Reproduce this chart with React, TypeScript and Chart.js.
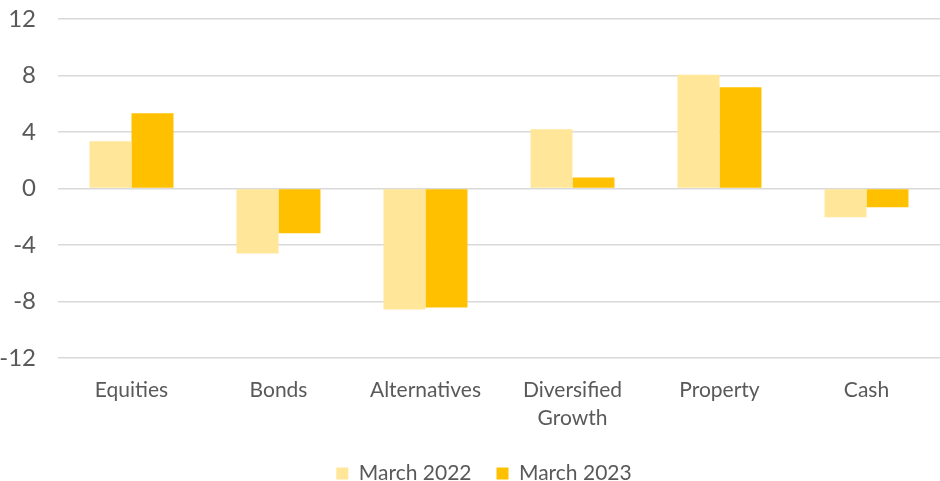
import React, { useEffect, useRef } from "react";
import { Chart, registerables } from "chart.js";

Chart.register(...registerables);

const categories: (string | string[])[] = [
  "Equities",
  "Bonds",
  "Alternatives",
  ["Diversified", "Growth"],
  "Property",
  "Cash",
];
const march2022 = [3.34, -4.6, -8.57, 4.19, 8.05, -2.04];
const march2023 = [5.33, -3.17, -8.43, 0.78, 7.17, -1.33];
const seriesLabels = ["March 2022", "March 2023"];
const yMin = -12;
const yMax = 12;
const yStep = 4;

const legendShift = {
  id: "legendShift",
  afterLayout(chart: any) {
    const lg = chart.legend;
    if (lg) {
      lg.left += 14;
      lg.right += 14;
    }
  },
};

export default function App() {
  const ref = useRef<HTMLCanvasElement | null>(null);

  useEffect(() => {
    document.body.style.margin = "0";
    const ctx = ref.current;
    if (!ctx) return;
    const textColor = "#595959";
    const chart = new Chart(ctx, {
      type: "bar",
      data: {
        labels: categories as any,
        datasets: [
          {
            label: seriesLabels[0],
            data: march2022,
            backgroundColor: "#FFE699",
            categoryPercentage: 0.571,
            barPercentage: 1,
          },
          {
            label: seriesLabels[1],
            data: march2023,
            backgroundColor: "#FFC000",
            categoryPercentage: 0.571,
            barPercentage: 1,
          },
        ],
      },
      plugins: [legendShift],
      options: {
        animation: false,
        responsive: false,
        maintainAspectRatio: false,
        layout: { padding: { top: 19, right: 0, left: 0, bottom: -13 } },
        plugins: {
          legend: {
            position: "bottom",
            labels: {
              boxWidth: 12,
              boxHeight: 12,
              color: textColor,
              padding: 25,
              font: { family: "Lato", size: 21 },
            },
          },
          tooltip: { enabled: false },
        },
        scales: {
          x: {
            grid: { display: false },
            border: { display: false },
            ticks: {
              color: textColor,
              font: { family: "Lato", size: 21, lineHeight: 1.33 },
              padding: 10,
              maxRotation: 0,
            },
            afterFit: (s: any) => {
              s.height = 80;
              s.paddingLeft = 0;
              s.paddingRight = 0;
            },
          },
          y: {
            min: yMin,
            max: yMax,
            ticks: {
              stepSize: yStep,
              color: textColor,
              font: { family: "Lato", size: 24 },
              padding: 22,
            },
            grid: { color: "#D9D9D9", lineWidth: 1.5, drawTicks: false },
            border: { display: false },
            afterFit: (s: any) => {
              s.width = 58;
              s.paddingTop = 0;
              s.paddingBottom = 0;
            },
          },
        },
      },
    });
    return () => chart.destroy();
  }, []);

  return (
    <div style={{ position: "absolute", left: 0, top: 0, width: 940, height: 481 }}>
      <canvas ref={ref} width={940} height={481} style={{ width: 940, height: 481 }} />
    </div>
  );
}
